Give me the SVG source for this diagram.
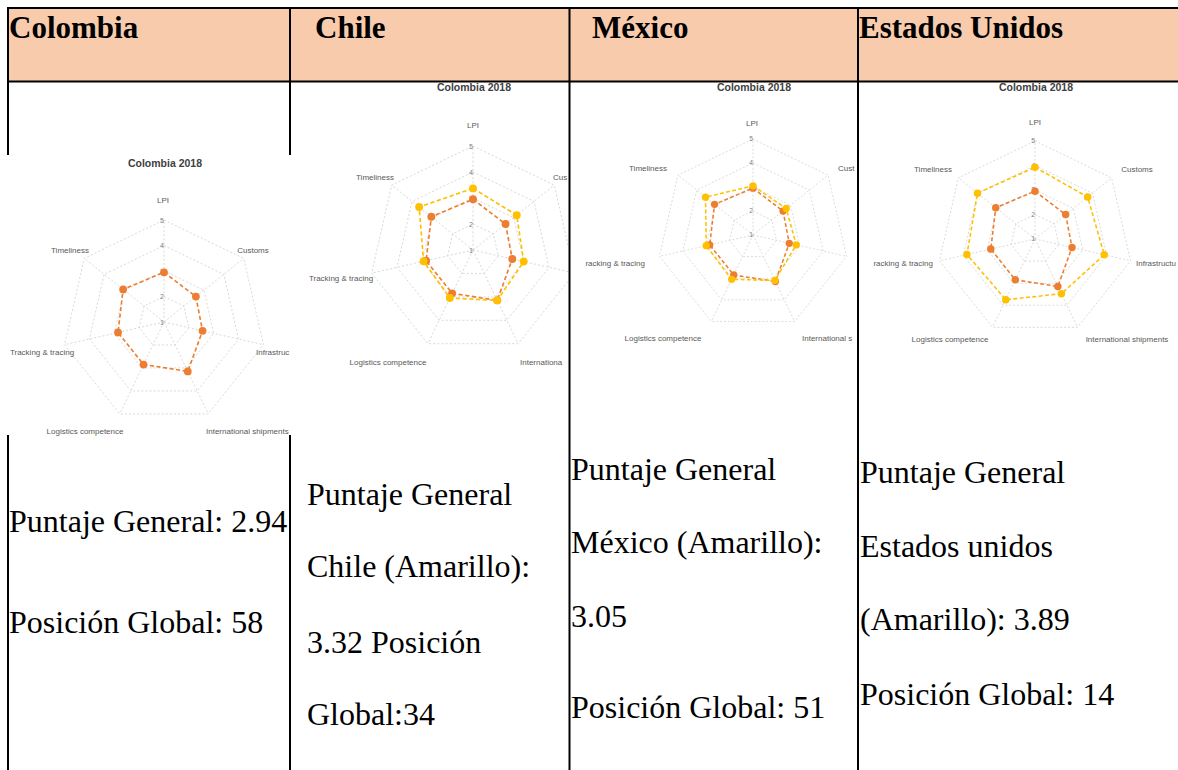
<svg xmlns="http://www.w3.org/2000/svg" width="1178" height="770" viewBox="0 0 1178 770">
<style>
.hdr{font-family:"Liberation Serif",serif;font-weight:bold;font-size:31px;fill:#000}
.body{font-family:"Liberation Serif",serif;font-size:32px;fill:#000}
.ttl{font-family:"Liberation Sans",sans-serif;font-weight:bold;font-size:10.5px;fill:#404040;text-anchor:middle}
.lbl{font-family:"Liberation Sans",sans-serif;font-size:8px;fill:#595959}
.mid{text-anchor:middle}
.end{text-anchor:end}
.num{font-family:"Liberation Sans",sans-serif;font-size:7px;fill:#7f7f7f;text-anchor:middle}
.grid{fill:none;stroke:#d0d0d0;stroke-width:0.8;stroke-dasharray:2 2}
.sO{fill:none;stroke:#ED7D31;stroke-width:1.6;stroke-dasharray:4 2.5}
.sY{fill:none;stroke:#FFC000;stroke-width:1.6;stroke-dasharray:4 2.5}
.mO{fill:#ED7D31}
.mY{fill:#FFC000}
.line{stroke:#000;stroke-width:2}
</style>
<defs>
<clipPath id="cCol"><rect x="8" y="155" width="282" height="280"/></clipPath>
<clipPath id="cChi"><rect x="291" y="83" width="277" height="350"/></clipPath>
<clipPath id="cMex"><rect x="580" y="83" width="276" height="340"/></clipPath>
<clipPath id="cUS"><rect x="860" y="83" width="318" height="340"/></clipPath>
<g id="grid">
<polygon class="grid" points="0,-25 19.55,-15.59 24.37,5.56 10.85,22.53 -10.85,22.53 -24.37,5.56 -19.55,-15.59"/>
<polygon class="grid" points="0,-50 39.09,-31.18 48.75,11.13 21.7,45.05 -21.7,45.05 -48.75,11.13 -39.09,-31.18"/>
<polygon class="grid" points="0,-75 58.64,-46.76 73.12,16.69 32.54,67.58 -32.54,67.58 -73.12,16.69 -58.64,-46.76"/>
<polygon class="grid" points="0,-100 78.18,-62.35 97.49,22.25 43.39,90.1 -43.39,90.1 -97.49,22.25 -78.18,-62.35"/>
<path class="grid" d="M0,0L0,-100M0,0L78.18,-62.35M0,0L97.49,22.25M0,0L43.39,90.1M0,0L-43.39,90.1M0,0L-97.49,22.25M0,0L-78.18,-62.35"/>
<text class="num" x="-2" y="2.5">1</text>
<text class="num" x="-2" y="-22.5">2</text>
<text class="num" x="-2" y="-47.5">3</text>
<text class="num" x="-2" y="-72.5">4</text>
<text class="num" x="-2" y="-97.5">5</text>
</g>
<g id="colSeries">
<polygon class="sO" points="0,-48.75 31.27,-24.94 37.78,8.62 23.32,48.43 -20.07,41.67 -45.09,10.29 -40.07,-31.95"/>
<circle class="mO" cx="0" cy="-48.75" r="3.8"/>
<circle class="mO" cx="31.27" cy="-24.94" r="3.8"/>
<circle class="mO" cx="37.78" cy="8.62" r="3.8"/>
<circle class="mO" cx="23.32" cy="48.43" r="3.8"/>
<circle class="mO" cx="-20.07" cy="41.67" r="3.8"/>
<circle class="mO" cx="-45.09" cy="10.29" r="3.8"/>
<circle class="mO" cx="-40.07" cy="-31.95" r="3.8"/>
</g>
</defs>

<g id="table">
<rect x="9" y="9" width="1169" height="72" fill="#F8CBAD"/>
<line class="line" x1="7" y1="8" x2="1178" y2="8"/>
<line class="line" x1="7" y1="81.5" x2="1178" y2="81.5"/>
<line class="line" x1="8" y1="7" x2="8" y2="770"/>
<line class="line" x1="290" y1="7" x2="290" y2="770"/>
<line class="line" x1="569.5" y1="7" x2="569.5" y2="770"/>
<line class="line" x1="858" y1="7" x2="858" y2="770"/>
</g>

<g id="header">
<text class="hdr" x="9" y="38">Colombia</text>
<text class="hdr" x="315" y="38">Chile</text>
<text class="hdr" x="592" y="38">México</text>
<text class="hdr" x="859" y="38">Estados Unidos</text>
</g>

<g id="chart-colombia">
<rect x="7" y="155" width="285" height="280" fill="#fff"/>
<g clip-path="url(#cCol)">
<g transform="translate(164,322) scale(1.02)">
<use href="#grid"/>
<use href="#colSeries"/>
</g>
</g>
<text class="ttl" x="165" y="167">Colombia 2018</text>
<text class="lbl mid" x="163" y="203">LPI</text>
<text class="lbl mid" x="253" y="253">Customs</text>
<text class="lbl" x="256" y="355">Infrastruc</text>
<text class="lbl" x="206" y="434">International shipments</text>
<text class="lbl mid" x="85" y="434">Logistics competence</text>
<text class="lbl mid" x="42" y="355">Tracking &amp; tracing</text>
<text class="lbl mid" x="70" y="253">Timeliness</text>
</g>

<g id="chart-chile">
<g clip-path="url(#cChi)">
<g transform="translate(473,250) scale(1.04)">
<use href="#grid"/>
<use href="#colSeries"/>
<polygon class="sY" points="0,-59.25 42.02,-33.51 48.75,11.13 23.32,48.43 -22.24,46.18 -47.53,10.85 -51.79,-41.31"/>
<circle class="mY" cx="0" cy="-59.25" r="3.8"/>
<circle class="mY" cx="42.02" cy="-33.51" r="3.8"/>
<circle class="mY" cx="48.75" cy="11.13" r="3.8"/>
<circle class="mY" cx="23.32" cy="48.43" r="3.8"/>
<circle class="mY" cx="-22.24" cy="46.18" r="3.8"/>
<circle class="mY" cx="-47.53" cy="10.85" r="3.8"/>
<circle class="mY" cx="-51.79" cy="-41.31" r="3.8"/>
</g>
</g>
<text class="ttl" x="474" y="91">Colombia 2018</text>
<text class="lbl mid" x="473" y="128">LPI</text>
<text class="lbl mid" x="375" y="180">Timeliness</text>
<text class="lbl" x="553" y="180">Cus</text>
<text class="lbl" x="520" y="365">Internationa</text>
<text class="lbl mid" x="388" y="365">Logistics competence</text>
<text class="lbl mid" x="341" y="281">Tracking &amp; tracing</text>
</g>

<g id="chart-mexico">
<g clip-path="url(#cMex)">
<g transform="translate(753,235) scale(0.96)">
<use href="#grid"/>
<use href="#colSeries"/>
<polygon class="sY" points="0,-51.25 34.59,-27.59 45.09,10.29 22.78,47.3 -22.24,46.18 -48.75,11.13 -49.45,-39.44"/>
<circle class="mY" cx="0" cy="-51.25" r="3.8"/>
<circle class="mY" cx="34.59" cy="-27.59" r="3.8"/>
<circle class="mY" cx="45.09" cy="10.29" r="3.8"/>
<circle class="mY" cx="22.78" cy="47.3" r="3.8"/>
<circle class="mY" cx="-22.24" cy="46.18" r="3.8"/>
<circle class="mY" cx="-48.75" cy="11.13" r="3.8"/>
<circle class="mY" cx="-49.45" cy="-39.44" r="3.8"/>
</g>
</g>
<text class="ttl" x="754" y="91">Colombia 2018</text>
<text class="lbl mid" x="752" y="126">LPI</text>
<text class="lbl mid" x="648" y="171">Timeliness</text>
<text class="lbl" x="838" y="171">Cust</text>
<text class="lbl" x="802" y="341">International s</text>
<text class="lbl mid" x="663" y="341">Logistics competence</text>
<text class="lbl end" x="645" y="266">racking &amp; tracing</text>
</g>

<g id="chart-usa">
<g clip-path="url(#cUS)">
<g transform="translate(1035,239) scale(0.98)">
<use href="#grid"/>
<use href="#colSeries"/>
<polygon class="sY" points="0,-73.25 53.75,-42.87 70.68,16.13 26.9,55.86 -29.83,61.94 -69.46,15.85 -58.64,-46.76"/>
<circle class="mY" cx="0" cy="-73.25" r="3.8"/>
<circle class="mY" cx="53.75" cy="-42.87" r="3.8"/>
<circle class="mY" cx="70.68" cy="16.13" r="3.8"/>
<circle class="mY" cx="26.9" cy="55.86" r="3.8"/>
<circle class="mY" cx="-29.83" cy="61.94" r="3.8"/>
<circle class="mY" cx="-69.46" cy="15.85" r="3.8"/>
<circle class="mY" cx="-58.64" cy="-46.76" r="3.8"/>
</g>
</g>
<text class="ttl" x="1036" y="91">Colombia 2018</text>
<text class="lbl mid" x="1035" y="125">LPI</text>
<text class="lbl mid" x="933" y="172">Timeliness</text>
<text class="lbl mid" x="1137" y="172">Customs</text>
<text class="lbl" x="1136" y="266">Infrastructu</text>
<text class="lbl mid" x="1127" y="342">International shipments</text>
<text class="lbl mid" x="950" y="342">Logistics competence</text>
<text class="lbl end" x="933" y="266">racking &amp; tracing</text>
</g>

<g id="text-colombia">
<text class="body" x="9" y="532">Puntaje General: 2.94</text>
<text class="body" x="9" y="633">Posición Global: 58</text>
</g>
<g id="text-chile">
<text class="body" x="307" y="505">Puntaje General</text>
<text class="body" x="307" y="577">Chile (Amarillo):</text>
<text class="body" x="307" y="653">3.32 Posición</text>
<text class="body" x="307" y="725">Global:34</text>
</g>
<g id="text-mexico">
<text class="body" x="571" y="480">Puntaje General</text>
<text class="body" x="571" y="553">México (Amarillo):</text>
<text class="body" x="571" y="627">3.05</text>
<text class="body" x="571" y="718">Posición Global: 51</text>
</g>
<g id="text-usa">
<text class="body" x="860" y="483">Puntaje General</text>
<text class="body" x="860" y="557">Estados unidos</text>
<text class="body" x="860" y="630">(Amarillo): 3.89</text>
<text class="body" x="860" y="705">Posición Global: 14</text>
</g>
</svg>
